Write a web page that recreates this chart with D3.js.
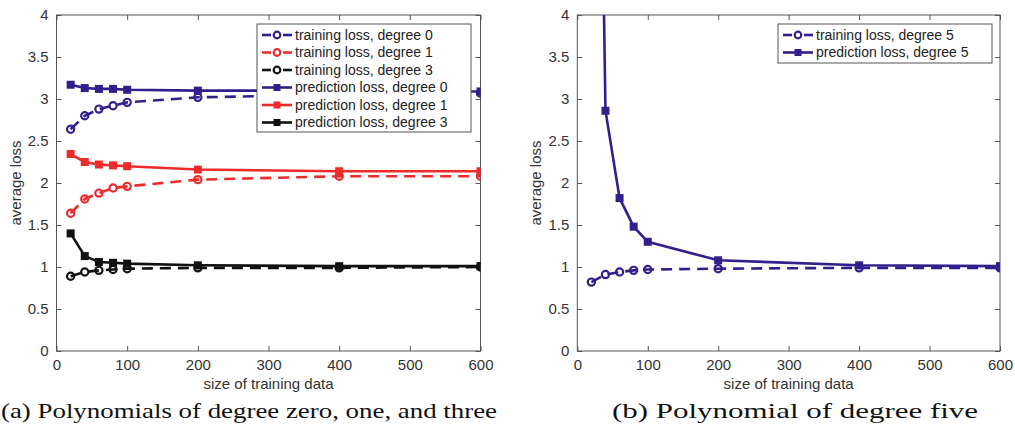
<!DOCTYPE html>
<html><head><meta charset="utf-8">
<script src="https://cdn.jsdelivr.net/npm/d3@7"></script>
<style>body{margin:0;background:#fff}svg{display:block}</style>
</head><body><svg id="c" width="1015" height="430"></svg>
<script>
const sizes = [20, 40, 60, 80, 100, 200, 400, 600];
const trainDeg0 = [2.64, 2.80, 2.88, 2.92, 2.96, 3.02, 3.05, 3.07];
const trainDeg1 = [1.64, 1.81, 1.88, 1.94, 1.96, 2.04, 2.08, 2.08];
const trainDeg3 = [0.89, 0.94, 0.96, 0.97, 0.98, 0.99, 0.99, 1.00];
const predDeg0 = [3.17, 3.13, 3.12, 3.12, 3.11, 3.10, 3.10, 3.09];
const predDeg1 = [2.345, 2.25, 2.22, 2.21, 2.20, 2.16, 2.14, 2.14];
const predDeg3 = [1.40, 1.13, 1.06, 1.05, 1.04, 1.02, 1.01, 1.01];
const trainDeg5 = [0.82, 0.91, 0.94, 0.96, 0.97, 0.98, 0.99, 0.99];
const predDeg5 = [13.7, 2.86, 1.82, 1.48, 1.30, 1.08, 1.02, 1.01];
const xTicks = [0, 100, 200, 300, 400, 500, 600];
const yTicks = [0, 0.5, 1, 1.5, 2, 2.5, 3, 3.5, 4];
const colors = {blue: "#30208c", red: "#ee2b2b", black: "#111111"};

const svg = d3.select("#c");
const FONT = "'Liberation Sans', Arial, sans-serif";

function panel(id, x0, x1, y0, y1, series, legend, caption) {
  const x = d3.scaleLinear().domain([0, 600]).range([x0, x1]);
  const y = d3.scaleLinear().domain([0, 4]).range([y1, y0]);
  const g = svg.append("g");
  const clipId = "clip" + id;
  svg.append("clipPath").attr("id", clipId).append("rect")
    .attr("x", x0).attr("y", y0).attr("width", x1 - x0).attr("height", y1 - y0);
  // frame
  g.append("rect").attr("x", x0).attr("y", y0).attr("width", x1 - x0).attr("height", y1 - y0)
    .attr("fill", "none").attr("stroke", "#555").attr("stroke-width", 1);
  // axes
  const ax = g.append("g").attr("transform", `translate(0,${y1})`)
    .call(d3.axisBottom(x).tickValues(xTicks).tickSize(-5).tickPadding(8).tickFormat(d3.format("d")));
  const axT = g.append("g").attr("transform", `translate(0,${y0})`)
    .call(d3.axisTop(x).tickValues(xTicks).tickSize(-5).tickFormat(""));
  const ay = g.append("g").attr("transform", `translate(${x0},0)`)
    .call(d3.axisLeft(y).tickValues(yTicks).tickSize(-5).tickPadding(8).tickFormat(d => d));
  const ayR = g.append("g").attr("transform", `translate(${x1},0)`)
    .call(d3.axisRight(y).tickValues(yTicks).tickSize(-5).tickFormat(""));
  [ax, axT, ay, ayR].forEach(a => {
    a.select(".domain").remove();
    a.selectAll("line").attr("stroke", "#555");
    a.selectAll("text").attr("font-family", FONT).attr("font-size", 15).attr("fill", "#333");
  });
  g.append("text").attr("x", (x0 + x1) / 2).attr("y", y1 + 38).attr("text-anchor", "middle")
    .attr("font-family", FONT).attr("font-size", 15).attr("fill", "#333").text("size of training data");
  g.append("text").attr("transform", `translate(${x0 - 36},${(y0 + y1) / 2}) rotate(-90)`)
    .attr("text-anchor", "middle").attr("font-family", FONT).attr("font-size", 15).attr("fill", "#333")
    .text("average loss");

  const line = d3.line().x((d, i) => x(sizes[i])).y(d => y(d));
  const plot = g.append("g").attr("clip-path", `url(#${clipId})`);
  series.forEach(s => {
    plot.append("path").datum(s.values).attr("d", line).attr("fill", "none")
      .attr("stroke", s.color).attr("stroke-width", 2.6)
      .attr("stroke-dasharray", s.dashed ? "11,7" : null);
  });
  series.forEach(s => {
    const pts = s.values.map((v, i) => [sizes[i], v]).filter(p => p[1] <= 4);
    if (s.marker === "circle") {
      plot.selectAll(null).data(pts).enter().append("circle")
        .attr("cx", d => x(d[0])).attr("cy", d => y(d[1])).attr("r", 3.6)
        .attr("fill", "none").attr("stroke", s.color).attr("stroke-width", 2.2);
    } else {
      plot.selectAll(null).data(pts).enter().append("rect")
        .attr("x", d => x(d[0]) - 4).attr("y", d => y(d[1]) - 4).attr("width", 8).attr("height", 8)
        .attr("fill", s.color);
    }
  });

  // legend
  const lg = g.append("g");
  lg.append("rect").attr("x", legend.x).attr("y", legend.y).attr("width", legend.w)
    .attr("height", legend.h).attr("fill", "#fff").attr("stroke", "#555").attr("stroke-width", 1);
  legend.items.forEach((s, i) => {
    const cy = legend.y + 11 + i * legend.dy;
    const lx0 = legend.x + 5, lx1 = legend.x + legend.lineW;
    if (s.marker === "circle") {
      lg.append("line").attr("x1", lx0).attr("x2", lx0 + 9).attr("y1", cy).attr("y2", cy)
        .attr("stroke", s.color).attr("stroke-width", 2.6);
      lg.append("line").attr("x1", lx1 - 9).attr("x2", lx1).attr("y1", cy).attr("y2", cy)
        .attr("stroke", s.color).attr("stroke-width", 2.6);
      lg.append("circle").attr("cx", (lx0 + lx1) / 2).attr("cy", cy).attr("r", 3.3)
        .attr("fill", "#fff").attr("stroke", s.color).attr("stroke-width", 2.2);
    } else {
      lg.append("line").attr("x1", lx0).attr("x2", lx1).attr("y1", cy).attr("y2", cy)
        .attr("stroke", s.color).attr("stroke-width", 2.6);
      lg.append("rect").attr("x", (lx0 + lx1) / 2 - 3.5).attr("y", cy - 3.5).attr("width", 7).attr("height", 7)
        .attr("fill", s.color);
    }
    lg.append("text").attr("x", legend.x + legend.textX).attr("y", cy).attr("dy", "0.35em")
      .attr("font-family", FONT).attr("font-size", 14).attr("fill", "#222").text(s.name);
  });

  svg.append("text").attr("x", caption.cx).attr("y", 418).attr("text-anchor", "middle")
    .attr("font-family", "'Liberation Serif', 'DejaVu Serif', serif").attr("font-size", 22)
    .attr("fill", "#111").attr("textLength", caption.w).attr("lengthAdjust", "spacingAndGlyphs")
    .text(caption.text);
}

const seriesA = [
  {name: "training loss, degree 0", values: trainDeg0, color: colors.blue, dashed: true, marker: "circle"},
  {name: "training loss, degree 1", values: trainDeg1, color: colors.red, dashed: true, marker: "circle"},
  {name: "training loss, degree 3", values: trainDeg3, color: colors.black, dashed: true, marker: "circle"},
  {name: "prediction loss, degree 0", values: predDeg0, color: colors.blue, dashed: false, marker: "square"},
  {name: "prediction loss, degree 1", values: predDeg1, color: colors.red, dashed: false, marker: "square"},
  {name: "prediction loss, degree 3", values: predDeg3, color: colors.black, dashed: false, marker: "square"}
];
const seriesB = [
  {name: "training loss, degree 5", values: trainDeg5, color: colors.blue, dashed: true, marker: "circle"},
  {name: "prediction loss, degree 5", values: predDeg5, color: colors.blue, dashed: false, marker: "square"}
];

panel("a", 56.5, 480.5, 15, 351, seriesA,
  {x: 257, y: 24, w: 214, h: 108, dy: 17.5, lineW: 35, textX: 38, items: seriesA},
  {cx: 249, w: 496, text: "(a) Polynomials of degree zero, one, and three"});
panel("b", 577.3, 1000, 15, 351, seriesB,
  {x: 778, y: 24, w: 214, h: 39, dy: 17.5, lineW: 35, textX: 38, items: seriesB},
  {cx: 795, w: 366, text: "(b) Polynomial of degree five"});
</script></body></html>
